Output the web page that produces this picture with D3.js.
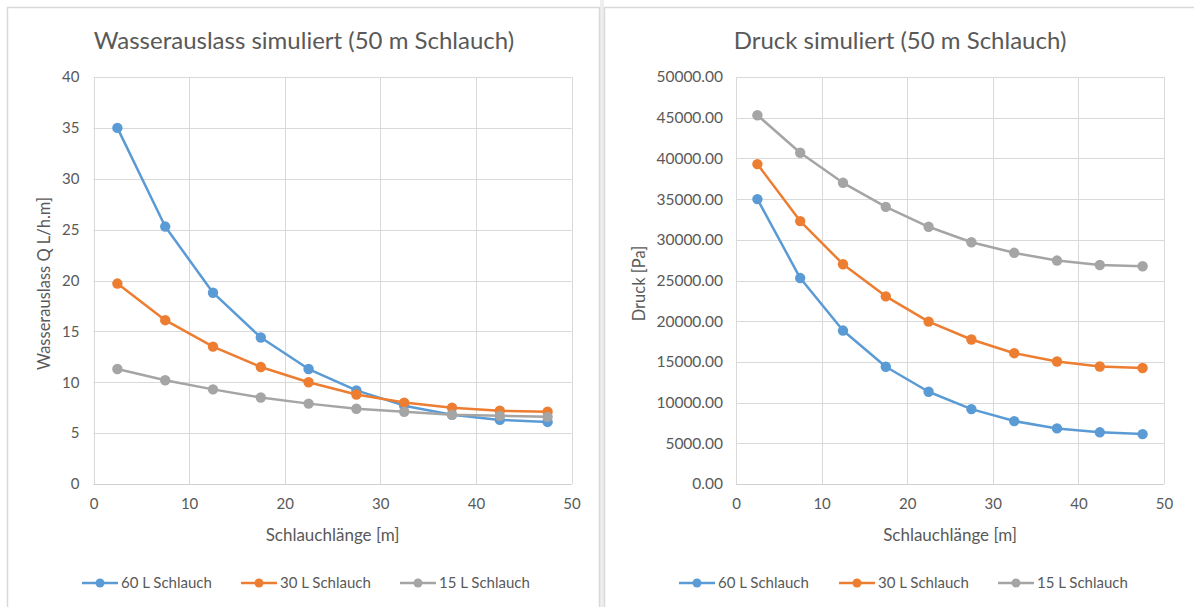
<!DOCTYPE html>
<html>
<head>
<meta charset="utf-8">
<script src="https://cdn.jsdelivr.net/npm/d3@7/dist/d3.min.js"></script>
<style>
  html, body { margin: 0; padding: 0; background: #ffffff; }
  svg { display: block; }
  text { font-family: Lato, "Open Sans", sans-serif; fill: #595959; }
</style>
</head>
<body>
<svg id="chart" width="1194" height="607"></svg>
<script>
// Hose positions along the 50 m hose (segment midpoints, metres)
const lengths = [2.5, 7.5, 12.5, 17.5, 22.5, 27.5, 32.5, 37.5, 42.5, 47.5];

// Simulated water outlet Q [L/h.m] per hose type
const q60 = [35.0, 25.3, 18.8, 14.4, 11.3, 9.2, 7.7, 6.8, 6.3, 6.1];
const q30 = [19.7, 16.1, 13.5, 11.5, 10.0, 8.8, 8.0, 7.5, 7.2, 7.1];
const q15 = [11.3, 10.2, 9.3, 8.5, 7.9, 7.4, 7.1, 6.8, 6.7, 6.6];

// Simulated pressure [Pa] per hose type
const p60 = [35000, 25300, 18850, 14400, 11330, 9200, 7730, 6830, 6350, 6130];
const p30 = [39300, 32300, 27000, 23050, 19950, 17750, 16070, 15050, 14440, 14250];
const p15 = [45300, 40700, 37000, 34050, 31600, 29700, 28400, 27450, 26900, 26750];

const seriesNames = ["60 L Schlauch", "30 L Schlauch", "15 L Schlauch"];
const seriesColors = ["#5b9bd5", "#ed7d31", "#a5a5a5"];

const xTicks = [0, 10, 20, 30, 40, 50];
const qTicks = [0, 5, 10, 15, 20, 25, 30, 35, 40];
const pTicks = [0, 5000, 10000, 15000, 20000, 25000, 30000, 35000, 40000, 45000, 50000];

const svg = d3.select("#chart");

// Panel frames and the grey divider between the two charts
svg.append("rect").attr("x", 600).attr("y", 0).attr("width", 4).attr("height", 607).attr("fill", "#eeeeee");
svg.append("rect").attr("x", 7.5).attr("y", 7.5).attr("width", 592).attr("height", 640)
  .attr("fill", "#ffffff").attr("stroke", "#d9d9d9").attr("stroke-width", 1.5);
svg.append("rect").attr("x", 604.5).attr("y", 7.5).attr("width", 640).attr("height", 640)
  .attr("fill", "#ffffff").attr("stroke", "#d9d9d9").attr("stroke-width", 1.5);

function drawChart(cfg) {
  const g = svg.append("g");
  const x = d3.scaleLinear().domain([0, 50]).range([cfg.left, cfg.right]);
  const y = d3.scaleLinear().domain([0, cfg.yMax]).range([cfg.bottom, cfg.top]);

  // Title
  g.append("text")
    .attr("x", cfg.titleX)
    .attr("y", 49)
    .attr("text-anchor", "middle")
    .style("font-size", "24px")
    .text(cfg.title);

  // Gridlines
  g.append("g").selectAll("line").data(cfg.yTicks.slice(1)).join("line")
    .attr("x1", cfg.left).attr("x2", cfg.right)
    .attr("y1", d => Math.round(y(d)) + 0.5).attr("y2", d => Math.round(y(d)) + 0.5)
    .attr("stroke", "#d9d9d9").attr("stroke-width", 1);
  g.append("g").selectAll("line").data(xTicks).join("line")
    .attr("y1", cfg.top).attr("y2", cfg.bottom)
    .attr("x1", d => Math.round(x(d)) + 0.5).attr("x2", d => Math.round(x(d)) + 0.5)
    .attr("stroke", "#d9d9d9").attr("stroke-width", 1);

  // Axes (labels only, baseline line drawn separately)
  const xAxis = d3.axisBottom(x).tickValues(xTicks).tickSize(0).tickPadding(14).tickFormat(d3.format("d"));
  const xg = g.append("g").attr("transform", `translate(0,${cfg.bottom})`).call(xAxis);
  xg.select(".domain").remove();
  xg.selectAll("text").style("font-size", "15px").style("font-family", "Lato, sans-serif").attr("fill", "#595959");

  const yAxis = d3.axisLeft(y).tickValues(cfg.yTicks).tickSize(0).tickPadding(cfg.yPad).tickFormat(cfg.yFormat);
  const yg = g.append("g").attr("transform", `translate(${cfg.left},0)`).call(yAxis);
  yg.select(".domain").remove();
  yg.selectAll("text").style("font-size", cfg.yFont).style("font-family", "Lato, sans-serif").attr("fill", "#595959");

  g.append("line")
    .attr("x1", cfg.left).attr("x2", cfg.right)
    .attr("y1", cfg.bottom + 0.5).attr("y2", cfg.bottom + 0.5)
    .attr("stroke", "#d0d0d0").attr("stroke-width", 1.2);

  // Axis titles
  g.append("text")
    .attr("x", (cfg.left + cfg.right) / 2).attr("y", 541)
    .attr("text-anchor", "middle").style("font-size", "17px")
    .text("Schlauchlänge [m]");
  g.append("text")
    .attr("transform", `translate(${cfg.yTitleX},${(cfg.top + cfg.bottom) / 2 + 3}) rotate(-90)`)
    .attr("text-anchor", "middle").style("font-size", "16.5px")
    .text(cfg.yTitle);

  // Series
  const line = d3.line().x((d, i) => x(lengths[i])).y(d => y(d));
  cfg.series.forEach((vals, s) => {
    const sg = g.append("g");
    sg.append("path").datum(vals)
      .attr("d", line).attr("fill", "none")
      .attr("stroke", seriesColors[s]).attr("stroke-width", 2.5)
      .attr("stroke-linejoin", "round");
    sg.selectAll("circle").data(vals).join("circle")
      .attr("cx", (d, i) => x(lengths[i])).attr("cy", d => y(d))
      .attr("r", 5.2).attr("fill", seriesColors[s]);
  });

  // Legend
  const lg = g.append("g");
  cfg.legendX.forEach((lx, s) => {
    const item = lg.append("g").attr("transform", `translate(${lx},583)`);
    item.append("line").attr("x1", -18).attr("x2", 18).attr("y1", 0).attr("y2", 0)
      .attr("stroke", seriesColors[s]).attr("stroke-width", 2.5);
    item.append("circle").attr("r", 4.5).attr("fill", seriesColors[s]);
    item.append("text").attr("x", 21).attr("y", 5).style("font-size", "15px").text(seriesNames[s]);
  });
}

drawChart({
  title: "Wasserauslass simuliert (50 m Schlauch)",
  titleX: 304,
  left: 93.5, right: 571.5, top: 77, bottom: 484,
  yMax: 40, yTicks: qTicks, yFormat: d3.format("d"), yPad: 14, yFont: "15px",
  yTitle: "Wasserauslass Q L/h.m]", yTitleX: 50,
  series: [q60, q30, q15],
  legendX: [100, 259, 418]
});

drawChart({
  title: "Druck simuliert (50 m Schlauch)",
  titleX: 900,
  left: 736, right: 1164, top: 77, bottom: 484,
  yMax: 50000, yTicks: pTicks, yFormat: d3.format(".2f"), yPad: 13, yFont: "15.5px",
  yTitle: "Druck [Pa]", yTitleX: 645,
  series: [p60, p30, p15],
  legendX: [697, 857, 1016]
});
</script>
</body>
</html>
